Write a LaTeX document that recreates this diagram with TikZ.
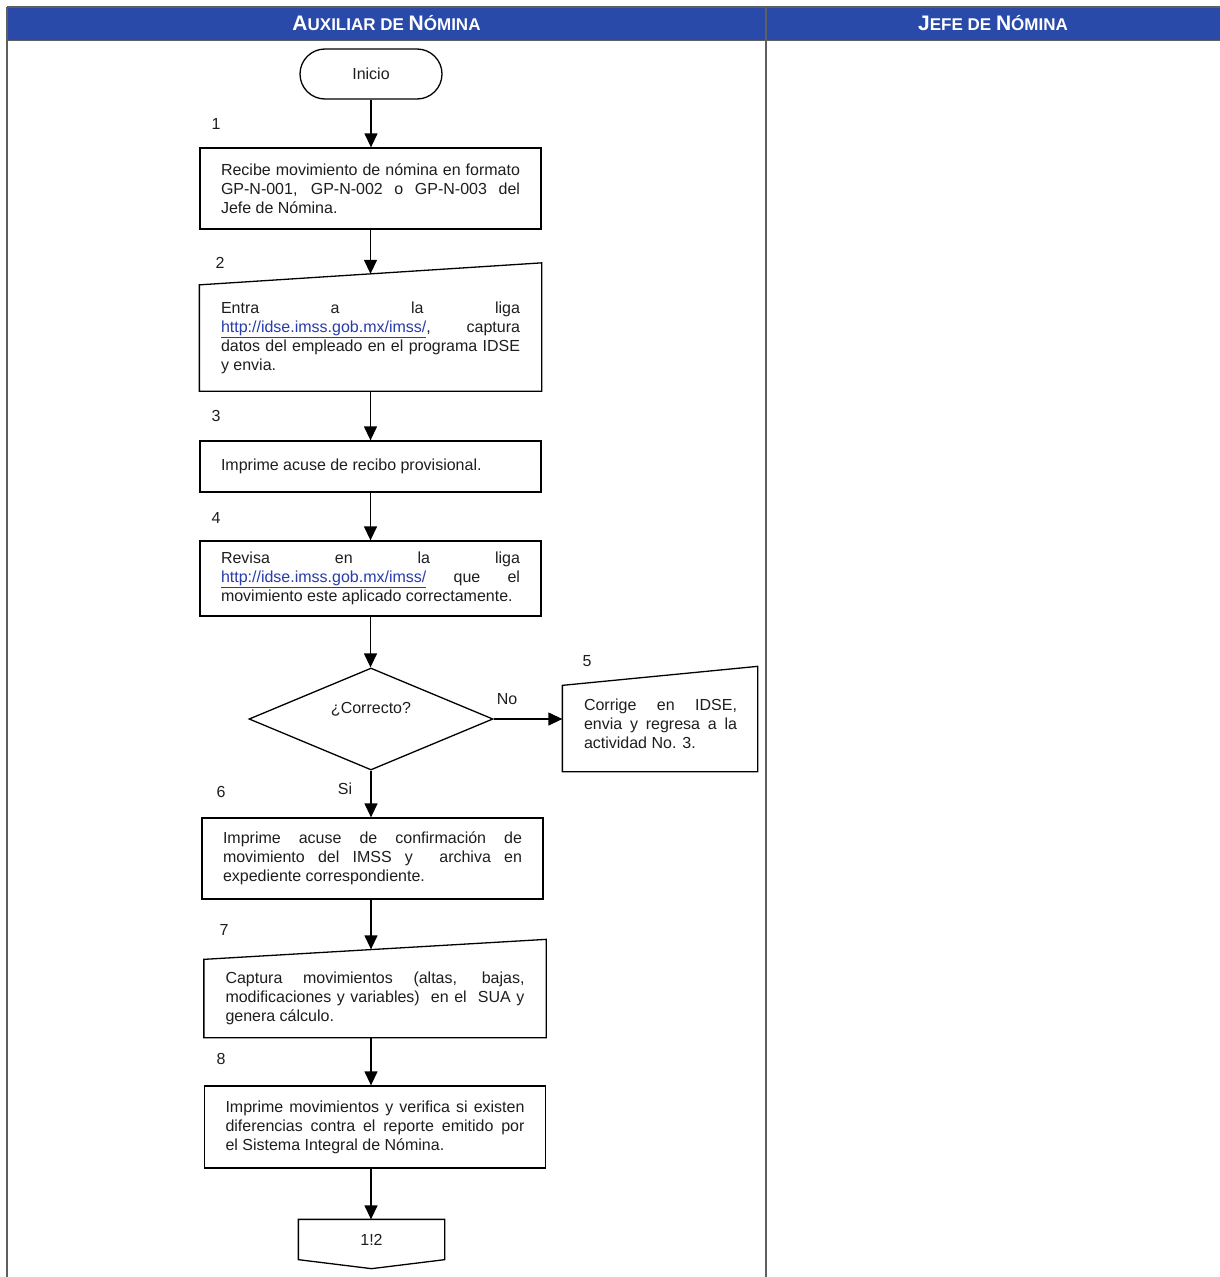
\documentclass[tikz,border=0pt]{standalone}
\usepackage{fontspec}
\setmainfont{Liberation Sans}
\usetikzlibrary{arrows.meta,shapes.geometric,calc}
\definecolor{headblue}{RGB}{42,74,170}
\definecolor{linkblue}{RGB}{40,60,170}
\definecolor{rulegray}{RGB}{95,95,95}
\definecolor{ink}{RGB}{30,30,30}
\newcommand{\lnk}[1]{\textcolor{linkblue}{\underline{#1}}}
\newcommand{\hbig}[1]{{\fontsize{21}{21}\selectfont #1}}
\newcommand{\hsml}[1]{{\fontsize{17}{17}\selectfont #1}}
\tikzset{
  body/.style={font=\fontsize{16}{19}\selectfont, text=ink},
  proc/.style={body, draw, rectangle, inner xsep=21pt, inner ysep=0pt, text width=299pt, align=justify},
  manin/.style={body, rectangle, inner xsep=21pt, inner ysep=0pt, text width=299pt, align=justify},
  term/.style={body, draw, rectangle, rounded corners=25pt, minimum width=142pt, minimum height=50pt, inner sep=0pt},
  decis/.style={draw, diamond, minimum width=244pt, minimum height=102pt, inner sep=0pt},
  lbl/.style={body, inner sep=0pt},
  hd/.style={text=white, font=\bfseries, inner sep=0pt},
  arr/.style={-{Triangle[length=14pt,width=13pt]}},
}
\begin{document}
\tolerance=10000
\hyphenpenalty=10000
\exhyphenpenalty=10000
\begin{tikzpicture}[x=1pt,y=-1pt,line width=1.3pt]
\useasboundingbox (0,0) rectangle (1220,1277);
\fill[white] (0,0) rectangle (1220,1277);

% swimlane header and lane rules
\fill[headblue] (7,7) rectangle (1220,40);
\draw[rulegray, line width=1.4pt] (7,7) -- (1220,7);
\draw[rulegray, line width=1pt] (7,40) -- (1220,40);
\draw[rulegray, line width=1.4pt] (7,7) -- (7,1277);
\draw[rulegray, line width=1.4pt] (766,7) -- (766,1277);
\node[hd] (h1) at (386.5,23.5) {\hbig{A}\hsml{UXILIAR DE }\hbig{N}\hsml{ÓMINA}};
\node[hd] (h2) at (993,23.5) {\hbig{J}\hsml{EFE DE }\hbig{N}\hsml{ÓMINA}};

% start
\node[term] (ini) at (371,74) {Inicio};

% 1
\node[lbl] (n1) at (216,124) {1};
\node[proc, minimum height=81pt] (b1) at (370.5,188.5)
  {Recibe movimiento de nómina en formato\linebreak GP-N-001, GP-N-002 o GP-N-003 del\linebreak Jefe de Nómina.};

% 2 (manual input)
\node[lbl] (n2) at (220,263) {2};
\node[manin, minimum height=105pt] (b2) at (370.5,338)
  {Entra a la liga\linebreak \lnk{http://idse.imss.gob.mx/imss/}, captura\linebreak datos del empleado en el programa IDSE\linebreak y envia.};
\draw (b2.south west) -- (b2.north west) -- ([yshift=22pt]b2.north east) -- (b2.south east) -- cycle;
\coordinate (b2in) at ([yshift=11pt]b2.north);

% 3
\node[lbl] (n3) at (216,416) {3};
\node[proc, minimum height=51pt] (b3) at (370.5,466.5) {Imprime acuse de recibo provisional.};

% 4
\node[lbl] (n4) at (216,518) {4};
\node[proc, minimum height=75pt] (b4) at (370.5,578.5)
  {Revisa en la liga\linebreak \lnk{http://idse.imss.gob.mx/imss/} que el\linebreak movimiento este aplicado correctamente.};

% decision
\node[decis] (dec) at (371,719) {};
\node[lbl] (dect) at (371,709) {¿Correcto?};
\node[lbl] (no) at (507,699) {No};
\node[lbl] (si) at (345,789) {Si};

% 5 (manual input)
\node[lbl] (n5) at (587,661) {5};
\node[minimum width=194pt, minimum height=85pt, inner sep=0pt] (b5) at (660,728.5) {};
\draw (b5.south west) -- (b5.north west) -- ([yshift=19pt]b5.north east) -- (b5.south east) -- cycle;
\node[body, text width=153pt, align=justify, inner sep=0pt] (b5t) at (660.5,723.5)
  {Corrige en IDSE,\linebreak envia y regresa a la\linebreak actividad No. 3.};

% 6
\node[lbl] (n6) at (221,792) {6};
\node[proc, minimum height=81pt] (b6) at (372.5,858.5)
  {Imprime acuse de confirmación de\linebreak movimiento del IMSS y\ \ archiva en\linebreak expediente correspondiente.};

% 7 (manual input)
\node[lbl] (n7) at (224,930) {7};
\node[manin, minimum height=77pt] (b7) at (375,998.5)
  {Captura movimientos (altas, bajas,\linebreak modificaciones y variables)\ \ en el\ \ SUA y\linebreak genera cálculo.};
\draw (b7.south west) -- (b7.north west) -- ([yshift=20pt]b7.north east) -- (b7.south east) -- cycle;
\coordinate (b7in) at ([yshift=10pt]b7.north);

% 8
\node[lbl] (n8) at (221,1059) {8};
\node[proc, minimum height=82pt] (b8) at (375,1127)
  {Imprime movimientos y verifica si existen\linebreak diferencias contra el reporte emitido por\linebreak el Sistema Integral de Nómina.};

% off-page connector
\node[body, minimum width=145pt, minimum height=39pt, inner sep=0pt] (c12) at (371.5,1239.5) {1!2};
\draw (c12.south west) -- (c12.north west) -- (c12.north east) -- (c12.south east) -- ([yshift=-9pt]c12.south) -- cycle;

% connectors
\draw[arr] (ini.south) -- (ini.south |- b1.north);
\draw[arr] (b1.south) -- (b1.south |- b2in);
\draw[arr] (b2.south) -- (b2.south |- b3.north);
\draw[arr] (b3.south) -- (b3.south |- b4.north);
\draw[arr] (b4.south) -- (b4.south |- dec.north);
\draw[arr] (dec.east) -- (dec.east -| b5.west);
\draw[arr] (dec.south) -- (dec.south |- b6.north);
\draw[arr] (dec.south |- b6.south) -- (dec.south |- b7in);
\draw[arr] (dec.south |- b7.south) -- (dec.south |- b8.north);
\draw[arr] (dec.south |- b8.south) -- (dec.south |- c12.north);
\end{tikzpicture}
\end{document}
